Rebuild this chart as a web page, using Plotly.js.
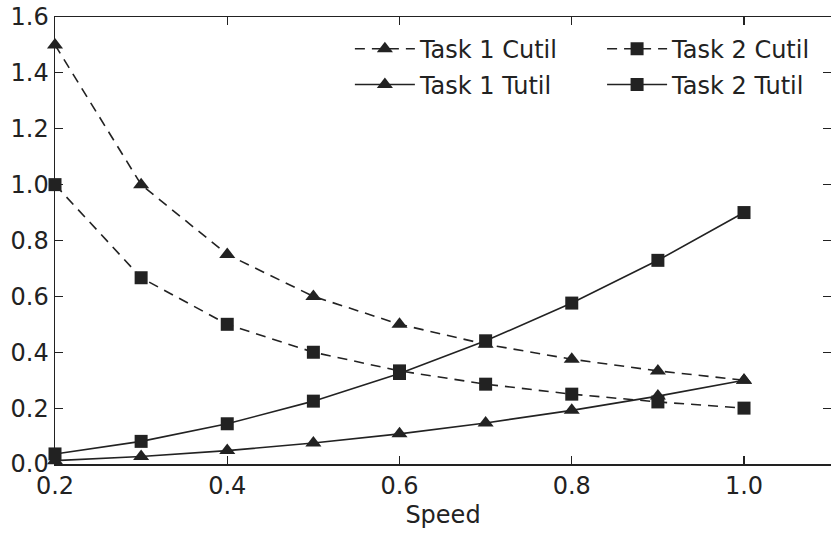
<!DOCTYPE html>
<html>
<head>
<meta charset="utf-8">
<script src="https://cdn.plot.ly/plotly-3.0.1.min.js"></script>
<style>html,body{margin:0;padding:0;background:#fff;}#chart{width:831px;height:535px;}</style>
</head>
<body>
<div id="chart"></div>
<script>
// Processor speed settings
const speed = [0.2, 0.3, 0.4, 0.5, 0.6, 0.7, 0.8, 0.9, 1.0];

// Utilisation per task
const task1Cutil = [1.5, 1.0, 0.75, 0.6, 0.5, 0.4286, 0.375, 0.3333, 0.3];
const task2Cutil = [1.0, 0.6667, 0.5, 0.4, 0.3333, 0.2857, 0.25, 0.2222, 0.2];
const task1Tutil = [0.012, 0.027, 0.048, 0.075, 0.108, 0.147, 0.192, 0.243, 0.3];
const task2Tutil = [0.036, 0.081, 0.144, 0.225, 0.324, 0.441, 0.576, 0.729, 0.9];

const xTicks = [0.2, 0.4, 0.6, 0.8, 1.0];
const xTickText = ['0.2', '0.4', '0.6', '0.8', '1.0'];
const yTicks = [0, 0.2, 0.4, 0.6, 0.8, 1.0, 1.2, 1.4, 1.6];
const yTickText = ['0.0', '0.2', '0.4', '0.6', '0.8', '1.0', '1.2', '1.4', '1.6'];

const ink = '#222222';
const font = {family: 'DejaVu Sans', size: 24, color: ink};
const dashed = '10px,7px';

function series(name, y, symbol, dash, legend, msize) {
  return {
    x: speed, y: y, name: name, type: 'scatter', mode: 'lines+markers',
    line: {color: ink, width: 1.6, dash: dash},
    marker: {symbol: symbol, size: msize, color: ink},
    legend: legend, cliponaxis: false
  };
}

const traces = [
  series('Task 1 Cutil', task1Cutil, 'triangle-up', dashed, 'legend', 14),
  series('Task 1 Tutil', task1Tutil, 'triangle-up', 'solid', 'legend2', 14),
  series('Task 2 Cutil', task2Cutil, 'square', dashed, 'legend3', 13),
  series('Task 2 Tutil', task2Tutil, 'square', 'solid', 'legend4', 13)
];

const axisBase = {
  showgrid: false, zeroline: false, showline: true, mirror: 'ticks',
  linecolor: ink, linewidth: 1.5, ticks: 'inside', ticklen: 8, tickwidth: 1.2,
  tickcolor: ink, tickfont: font
};

// one legend box per entry so the 2x2 grid can be placed freely
function legendAt(x, y) {
  return {
    x: x, y: y, xanchor: 'left', yanchor: 'middle',
    bgcolor: 'rgba(0,0,0,0)', font: font, itemwidth: 60
  };
}

const layout = {
  width: 831, height: 535,
  margin: {l: 55, r: 0, t: 17, b: 71},
  paper_bgcolor: '#fff', plot_bgcolor: '#fff',
  font: font,
  xaxis: Object.assign({}, axisBase, {
    range: [0.2, 1.101], tickvals: xTicks, ticktext: xTickText,
    title: {text: 'Speed', font: font, standoff: 7}
  }),
  yaxis: Object.assign({}, axisBase, {
    range: [0, 1.6], tickvals: yTicks, ticktext: yTickText
  }),
  legend: legendAt(0.380, 0.928),
  legend2: legendAt(0.380, 0.848),
  legend3: legendAt(0.705, 0.928),
  legend4: legendAt(0.705, 0.848),
  showlegend: true
};

Plotly.newPlot('chart', traces, layout, {displayModeBar: false, staticPlot: true});
</script>
</body>
</html>
